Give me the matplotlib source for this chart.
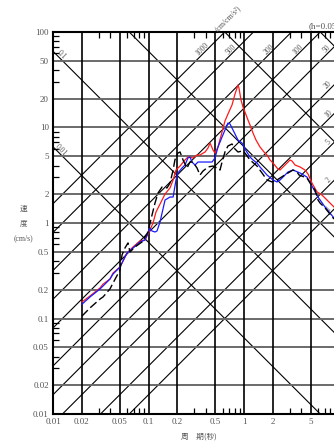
import matplotlib
matplotlib.use("Agg")
import matplotlib.pyplot as plt
import numpy as np
from matplotlib.ticker import FixedLocator, NullFormatter

FIG_W, FIG_H = 334, 443

period_ticks = [0.01, 0.02, 0.05, 0.1, 0.2, 0.5, 1, 2, 5]
period_labels = ["0.01", "0.02", "0.05", "0.1", "0.2", "0.5", "1", "2", "5"]
velocity_ticks = [0.01, 0.02, 0.05, 0.1, 0.2, 0.5, 1, 2, 5, 10, 20, 50, 100]
velocity_labels = ["0.01", "0.02", "0.05", "0.1", "0.2", "0.5", "1", "2", "5", "10", "20", "50", "100"]

# tripartite guide lines: pseudo acceleration (cm/s2) and displacement (cm)
accel_lines = [1, 2, 5, 10, 20, 50, 100, 200, 500, 1000]
disp_lines = [0.01, 0.1, 1, 10, 100]
accel_top_labels = [1000, 500, 200, 100, 50]
accel_side_labels = [20, 10, 5, 2, 1]
disp_labels = [0.1, 0.01]

# response spectra (period s, velocity cm/s)
red_period = [0.0201, 0.0244, 0.0311, 0.0334, 0.0395, 0.0425, 0.0503, 0.0567, 0.0595, 0.0688,
              0.0815, 0.0919, 0.1037, 0.1115, 0.1199, 0.132, 0.149, 0.168, 0.181, 0.194,
              0.214, 0.241, 0.259, 0.292, 0.322, 0.346, 0.391, 0.420, 0.441, 0.474,
              0.497, 0.534, 0.589, 0.632, 0.679, 0.749, 0.805, 0.845, 0.865, 0.886,
              0.930, 0.976, 1.024, 1.101, 1.156, 1.243, 1.336, 1.471, 1.620, 1.742,
              1.873, 2.013, 2.216, 2.383, 2.562, 2.890, 3.03, 3.18, 3.42, 3.86,
              4.35, 4.68, 5.15, 5.81, 6.56, 7.40, 8.76]
red_sv = [0.149, 0.172, 0.209, 0.229, 0.259, 0.299, 0.346, 0.440, 0.485, 0.561,
          0.648, 0.664, 0.845, 1.000, 1.305, 1.578, 2.01, 2.33, 2.82, 3.59,
          3.95, 4.57, 4.91, 4.80, 5.15, 5.15, 5.54, 6.10, 6.88, 5.81,
          5.40, 6.25, 8.97, 11.69, 13.83, 17.2, 22.4, 25.9, 27.9, 25.9,
          19.4, 16.4, 14.5, 11.98, 10.62, 8.75, 7.39, 6.25, 5.54, 5.15,
          4.57, 4.25, 3.77, 3.59, 3.86, 4.35, 4.57, 4.46, 4.05, 3.86,
          3.59, 3.26, 2.62, 2.12, 1.96, 1.74, 1.47]

blue_period = [0.0201, 0.0244, 0.0311, 0.0334, 0.0395, 0.0425, 0.0503, 0.0595, 0.0688, 0.0815,
               0.0919, 0.1037, 0.1088, 0.117, 0.1228, 0.132, 0.149, 0.168, 0.181, 0.194,
               0.203, 0.2246, 0.241, 0.259, 0.272, 0.285, 0.307, 0.330, 0.372, 0.410,
               0.463, 0.497, 0.534, 0.589, 0.632, 0.679, 0.714, 0.749, 0.805, 0.865,
               0.953, 1.024, 1.156, 1.243, 1.368, 1.471, 1.742, 2.013, 2.216, 2.383,
               2.562, 2.890, 3.26, 3.86, 4.56, 5.28, 5.96, 7.05, 7.95, 8.76]
blue_sv = [0.141, 0.168, 0.204, 0.219, 0.259, 0.292, 0.346, 0.485, 0.548, 0.633,
           0.664, 0.887, 0.825, 0.805, 0.825, 1.024, 1.74, 1.87, 1.87, 2.82,
           3.34, 3.77, 4.05, 4.80, 4.91, 4.35, 4.05, 4.35, 4.35, 4.35,
           4.35, 4.80, 6.25, 7.95, 9.41, 11.14, 10.88, 9.88, 8.54, 7.39,
           6.88, 5.95, 4.91, 4.57, 4.25, 3.86, 3.18, 2.82, 2.69, 2.82,
           3.03, 3.42, 3.59, 3.34, 3.03, 2.33, 1.87, 1.47, 1.27, 1.128]

black_period = [0.0201, 0.0244, 0.0311, 0.0334, 0.0395, 0.0425, 0.0503, 0.0528, 0.0567, 0.0610,
                0.0640, 0.0722, 0.0855, 0.0988, 0.1088, 0.117, 0.1258, 0.1385, 0.1564, 0.168,
                0.181, 0.189, 0.203, 0.214, 0.230, 0.253, 0.272, 0.292, 0.322, 0.346,
                0.372, 0.420, 0.474, 0.522, 0.561, 0.589, 0.632, 0.679, 0.749, 0.805,
                0.865, 0.953, 1.024, 1.156, 1.368, 1.544, 1.742, 1.966, 2.216, 2.562,
                2.890, 3.26, 3.59, 3.77, 4.56, 5.15, 5.54, 5.96, 6.25, 7.05,
                7.95, 8.76]
black_sv = [0.106, 0.129, 0.160, 0.168, 0.204, 0.235, 0.322, 0.462, 0.548, 0.618,
            0.497, 0.561, 0.633, 0.805, 1.21, 1.62, 2.06, 2.38, 2.33, 2.62,
            3.59, 4.57, 5.40, 5.54, 4.57, 3.77, 4.35, 4.35, 3.77, 3.18,
            3.50, 3.86, 3.95, 3.77, 3.59, 4.35, 5.54, 6.40, 6.72, 5.95,
            5.54, 5.67, 5.40, 4.57, 3.95, 3.34, 2.82, 2.69, 2.82, 3.10,
            3.34, 3.59, 3.42, 3.18, 2.96, 2.44, 2.22, 1.74, 1.62, 1.44,
            1.24, 1.10]

SERIF = "Liberation Serif"
CJK = ["Noto Sans CJK JP", "DejaVu Sans"]
GREY = "#555555"
TWO_PI = 2 * np.pi


def fig_xy(x, y):
    return x / FIG_W, 1 - y / FIG_H


def draw_guides(ax):
    t = np.logspace(-2, 1, 300)
    for a in accel_lines:
        ax.plot(t, a * t / TWO_PI, color="black", lw=0.8, zorder=1)
    for d in disp_lines:
        ax.plot(t, TWO_PI * d / t, color="black", lw=0.8, zorder=1)
    for v in velocity_ticks[1:-1]:
        ax.axhline(v, color="#6a6a6a", lw=1.4, zorder=1.5)
    for p in period_ticks[1:]:
        ax.axvline(p, color="black", lw=1.2, zorder=1.5)

    lab = dict(fontsize=5.5, color=GREY, family=SERIF, ha="center", va="center", zorder=3)
    for a in accel_top_labels:
        sv = 66
        ax.text(TWO_PI * sv / a / 1.14, sv, str(a), rotation=45, **lab)
    for a in accel_side_labels:
        t0 = 7.6
        ax.text(t0, a * t0 / TWO_PI * 1.155, str(a), rotation=45, **lab)
    for d in disp_labels:
        t0 = 0.0122
        ax.text(t0, TWO_PI * d / t0 * 1.13, str(d), rotation=-45, **lab)


def main():
    fig = plt.figure(figsize=(FIG_W / 100, FIG_H / 100), dpi=100)
    ax = fig.add_axes([53 / FIG_W, 29 / FIG_H, 286.5 / FIG_W, 382 / FIG_H])
    ax.set_xscale("log")
    ax.set_yscale("log")
    ax.set_xlim(0.01, 10)
    ax.set_ylim(0.01, 100)

    draw_guides(ax)

    ax.plot(red_period, red_sv, color="#ff1a1a", lw=0.9, zorder=4)
    ax.plot(blue_period, blue_sv, color="#1a1aff", lw=0.9, zorder=5)
    ax.plot(black_period, black_sv, color="black", lw=1.0, dashes=(6, 2.5), zorder=6)

    minors = [k * 10.0 ** e for e in range(-2, 2) for k in (3, 4, 6, 7, 8, 9)]
    ax.xaxis.set_major_locator(FixedLocator(period_ticks))
    ax.yaxis.set_major_locator(FixedLocator(velocity_ticks))
    ax.xaxis.set_minor_locator(FixedLocator(minors))
    ax.yaxis.set_minor_locator(FixedLocator(minors))
    ax.xaxis.set_minor_formatter(NullFormatter())
    ax.yaxis.set_minor_formatter(NullFormatter())
    ax.set_xticklabels(period_labels, family=SERIF)
    ax.set_yticklabels(velocity_labels, family=SERIF)
    ax.tick_params(which="major", length=0, pad=3, labelsize=6.5, labelcolor=GREY)
    ax.tick_params(which="minor", direction="in", length=4, width=0.9,
                   top=True, right=True, color="black")
    for s in ax.spines.values():
        s.set_linewidth(1.5)

    fig.text(*fig_xy(24, 209), "速", family=CJK, fontsize=5.5, color=GREY, ha="center", va="center")
    fig.text(*fig_xy(24, 223), "度", family=CJK, fontsize=5.5, color=GREY, ha="center", va="center")
    fig.text(*fig_xy(23, 238), "(cm/s)", family=SERIF, fontsize=5.5, color=GREY, ha="center", va="center")
    fig.text(*fig_xy(199, 437), "周　期(秒)", family=CJK, fontsize=5.5, color=GREY, ha="center", va="center")
    fig.text(*fig_xy(228, 18), "(cm/cm/s²)", family=SERIF, fontsize=5.5, color=GREY,
             ha="center", va="center", rotation=45)
    fig.text(*fig_xy(309, 28), "(h=0.05)", family=SERIF, fontsize=6.5, color=GREY,
             ha="left", va="baseline")

    fig.savefig("out.png", dpi=100)
    plt.close(fig)


if __name__ == "__main__":
    main()
